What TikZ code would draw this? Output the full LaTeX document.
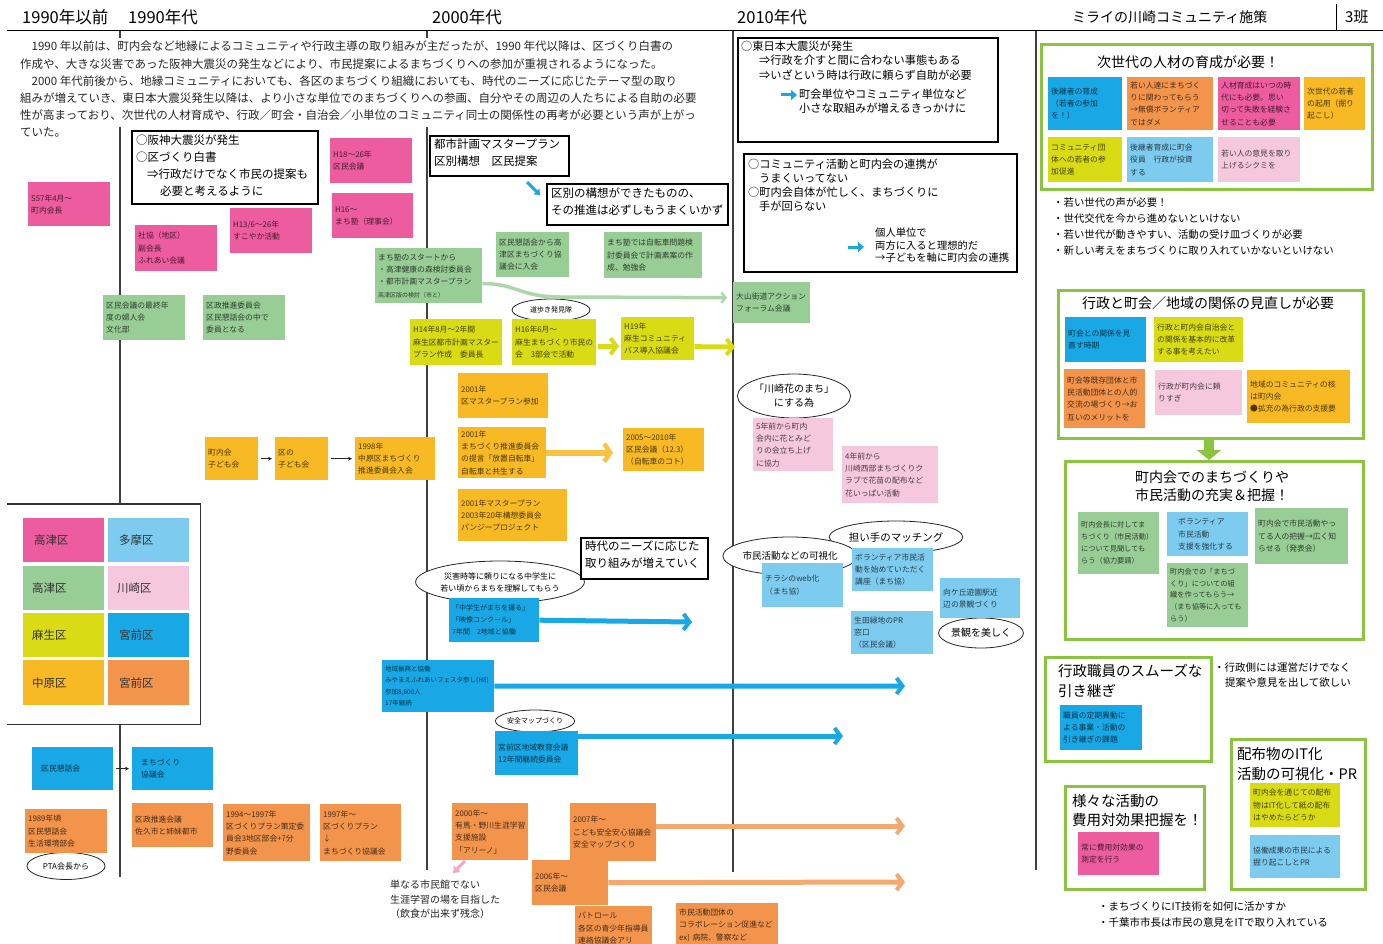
\documentclass[tikz,border=0pt]{standalone}
\usepackage{fontspec}
\setmainfont{Noto Sans CJK JP}
\usetikzlibrary{arrows.meta,shapes.geometric}
\definecolor{cMag}{HTML}{EC5C9E}
\definecolor{cGrn}{HTML}{98CD95}
\definecolor{cYel}{HTML}{D9DB14}
\definecolor{cOY}{HTML}{F7B924}
\definecolor{cBlu}{HTML}{18A8E6}
\definecolor{cLBl}{HTML}{7DCBEF}
\definecolor{cLPk}{HTML}{F6C8DD}
\definecolor{cOrg}{HTML}{F2944C}
\definecolor{cLime}{HTML}{8BC53F}
\newcommand{\fsz}[2]{\fontsize{#1}{#2}\selectfont}
\tikzset{
  stk/.style={anchor=north west, inner xsep=3pt, inner ysep=2pt, align=left, font=\fsz{7.8}{12.3}},
  sz/.code 2 args={\pgfmathsetlengthmacro\mytw{#1-6}\pgfmathsetlengthmacro\mymw{#1}\pgfmathsetlengthmacro\mymh{#2}\edef\mytmp{\noexpand\tikzset{minimum width=\mymw,minimum height=\mymh,text width=\mytw}}\mytmp},
  col/.style={fill=#1, text=#1!30!black},
  cell/.style={font=\fsz{11.5}{14}, text=black!80},
  bxs/.style={draw=black, line width=1.8pt, anchor=north west, inner sep=0pt, fill=white},
  bxt/.style={anchor=north west, align=left, inner sep=0pt, font=\fsz{11.5}{17}},
  lbox/.style={draw=cLime, line width=3pt, fill=white, anchor=north west, inner sep=0pt},
  ell/.style={ellipse, draw=black!85, line width=0.8pt, fill=white, inner sep=0pt, align=center},
  hd/.style={anchor=west, inner sep=0pt, font=\fsz{16.5}{18}},
  ttl/.style={inner sep=0pt, align=center, font=\fsz{14}{18}},
  txt/.style={anchor=north west, inner sep=0pt, align=left, font=\fsz{10.5}{16}},
  tl/.style={line width=1.3pt, black!75},
  barrow/.style={line width=5pt, draw=#1, -{Straight Barb[length=6pt,width=16pt,line width=4pt]}},
  sarr/.style={-{Stealth[length=4pt,width=4pt]}, line width=0.9pt, black!85, shorten <=3pt, shorten >=3pt},
  blarr/.style={line width=3pt, cBlu, -{Triangle[length=6pt,width=10pt]}},
}
\begin{document}
\begin{tikzpicture}[x=1pt,y=-1pt]
\useasboundingbox (0,0) rectangle (1383,944);
\clip (0,0) rectangle (1383,944);
\fill[white] (0,0) rectangle (1383,944);

% ---------- header ----------
\node[hd] (h1) at (22,17) {1990年以前};
\node[hd] (h2) at (128,17) {1990年代};
\node[hd] (h3) at (432,17) {2000年代};
\node[hd] (h4) at (737,17) {2010年代};
\node[hd,font=\fsz{14}{18}] (h5) at (1072,17) {ミライの川崎コミュニティ施策};
\node[hd,font=\fsz{15}{18}] (h6) at (1345,17) {3班};
\draw[line width=1pt] (7,31) -- (1383,31);
\draw[line width=1pt] (1336,4) -- (1336,31);

% ---------- timeline lines ----------
\draw[tl] (120,31) -- (120,38);
\draw[tl] (120,127) -- (120,504);
\draw[tl] (120,724) -- (120,877);
\draw[tl] (427,31) -- (427,38);
\draw[tl] (427,127) -- (427,870);
\draw[tl] (733,31) -- (733,872);
\draw[tl] (1036,31) -- (1036,870);

% ---------- paragraph ----------
\node[anchor=north west, inner sep=0pt, align=left, font=\fsz{11.5}{17.2}, text=black!85] (para) at (20,41) {%
\hspace*{11.5pt}1990 年以前は、町内会など地縁によるコミュニティや行政主導の取り組みが主だったが、1990 年代以降は、区づくり白書の\\
作成や、大きな災害であった阪神大震災の発生などにより、市民提案によるまちづくりへの参加が重視されるようになった。\\
\hspace*{11.5pt}2000 年代前後から、地縁コミュニティにおいても、各区のまちづくり組織においても、時代のニーズに応じたテーマ型の取り\\
組みが増えていき、東日本大震災発生以降は、より小さな単位でのまちづくりへの参画、自分やその周辺の人たちによる自助の必要\\
性が高まっており、次世代の人材育成や、行政／町会・自治会／小単位のコミュニティ同士の関係性の再考が必要という声が上がっ\\
ていた。};

% ---------- ellipses ----------
\node[ell,minimum width=78,minimum height=22,font=\fsz{7}{9}] (e1) at (551,310) {道歩き発見隊};
\node[ell,minimum width=90,minimum height=44,font=\fsz{10}{14}] (e2) at (794,396) {「川崎花のまち」\\にする為};
\node[ell,minimum width=118,minimum height=32,font=\fsz{10.5}{13}] (e4) at (896,537) {担い手のマッチング};
\node[ell,minimum width=117,minimum height=38,font=\fsz{9.5}{12}] (e3) at (790,556) {市民活動などの可視化};
\node[ell,minimum width=78,minimum height=30,font=\fsz{10}{12}] (e5) at (981,633) {景観を美しく};
\node[ell,minimum width=142,minimum height=42,font=\fsz{8}{12}] (e6) at (500,582) {災害時等に頼りになる中学生に\\若い頃からまちを理解してもらう};
\node[ell,minimum width=72,minimum height=22,font=\fsz{7}{9}] (e7) at (535,721) {安全マップづくり};
\node[ell,minimum width=78,minimum height=27,font=\fsz{8}{10}] (e8) at (66,866) {PTA会長から};

% ---------- pink ----------
\node[stk,sz={82}{44},col=cMag] (p1) at (28,182) {S57年4月～\\町内会長};
\node[stk,sz={82}{46},col=cMag] (p2) at (135,225) {社協（地区）\\副会長\\ふれあい会議};
\node[stk,sz={82}{45},col=cMag] (p3) at (230,208) {H13/6～26年\\すこやか活動};
\node[stk,sz={82}{45},col=cMag] (p4) at (330,138) {H18～26年\\区民会議};
\node[stk,sz={81}{45},col=cMag] (p5) at (332,193) {H16～\\まち塾（理事会）};

% ---------- green ----------
\node[stk,sz={82}{45},col=cGrn] (g1) at (103,295) {区民会議の最終年\\度の婦人会\\文化部};
\node[stk,sz={82}{45},col=cGrn] (g2) at (203,295) {区政推進委員会\\区民懇話会の中で\\委員となる};
\node[stk,sz={107}{55},col=cGrn] (g3) at (375,248) {まち塾のスタートから\\・高津健康の森検討委員会\\・都市計画マスタープラン\\{\fsz{6}{9}高津区版の検討（市と）}};
\node[stk,sz={73}{45},col=cGrn] (g4) at (496,232) {区民懇話会から高\\津区まちづくり協\\議会に入会};
\node[stk,sz={98}{46},col=cGrn] (g5) at (604,232) {まち塾では自転車問題検\\討委員会で計画素案の作\\成、勉強会};
\node[stk,sz={77}{41},col=cGrn] (g6) at (733,282) {大山街道アクション\\フォーラム会議};

% ---------- yellow ----------
\node[stk,sz={92}{46},col=cYel] (y1) at (410,319) {H14年8月～2年間\\麻生区都市計画マスター\\プラン作成　委員長};
\node[stk,sz={84}{46},col=cYel] (y2) at (512,319) {H16年6月～\\麻生まちづくり市民の\\会　3部会で活動};
\node[stk,sz={73}{43},col=cYel] (y3) at (621,317) {H19年\\麻生コミュニティ\\バス導入協議会};

% ---------- orange-yellow ----------
\node[stk,sz={90}{45},col=cOY] (o1) at (458,373) {2001年\\区マスタープラン参加};
\node[stk,sz={88}{51},col=cOY] (o2) at (458,427) {2001年\\まちづくり推進委員会\\の提言「放置自転車」\\自転車と共生する};
\node[stk,sz={81}{43},col=cOY] (o3) at (623,428) {2005～2010年\\区民会議（12.3）\\（自転車のコト）};
\node[stk,sz={109}{52},col=cOY] (o4) at (458,489) {2001年マスタープラン\\2003年20年構想委員会\\パンジープロジェクト};
\node[stk,sz={53}{43},col=cOY] (o5) at (205,437) {町内会\\子ども会};
\node[stk,sz={53}{43},col=cOY] (o6) at (275,437) {区の\\子ども会};
\node[stk,sz={80}{43},col=cOY] (o7) at (355,437) {1998年\\中原区まちづくり\\推進委員会入会};

% ---------- light pink ----------
\node[stk,sz={80}{53},col=cLPk] (lp1) at (753,418) {5年前から町内\\会内に花とみど\\りの会立ち上げ\\に協力};
\node[stk,sz={96}{57},col=cLPk] (lp2) at (842,446) {4年前から\\川崎西部まちづくりク\\ラブで花苗の配布など\\花いっぱい活動};

% ---------- light blue ----------
\node[stk,sz={81}{44},col=cLBl] (lb1) at (762,563) {チラシのweb化\\（まち協）};
\node[stk,sz={81}{43},col=cLBl] (lb2) at (852,548) {ボランティア市民活\\動を始めていただく\\講座（まち協）};
\node[stk,sz={80}{40},col=cLBl] (lb3) at (940,578) {向ケ丘遊園駅近\\辺の景観づくり};
\node[stk,sz={82}{43},col=cLBl] (lb4) at (851,611) {生田緑地のPR\\窓口\\（区民会議）};

% ---------- blue ----------
\node[stk,sz={90}{44},col=cBlu,font=\fsz{7}{12}] (bl1) at (449,598) {「中学生がまちを撮る」\\「映像コンクール」\\7年間　2地域と協働};
\node[stk,sz={112}{52},col=cBlu,font=\fsz{6.5}{11.5}] (bl2) at (382,660) {地域振興と協働\\みやまえふれあいフェスタ参し(H8)\\参加8,600人\\17年継続};
\node[stk,sz={83}{44},col=cBlu] (bl3) at (495,731) {宮前区地域教育会議\\12年間継続委員会};
\node[stk,sz={81}{43},col=cBlu] (bl4) at (32,747) {\hspace*{6pt}区民懇話会};
\node[stk,sz={81}{43},col=cBlu] (bl5) at (132,747) {\hspace*{6pt}まちづくり\\\hspace*{6pt}協議会};

% ---------- orange ----------
\node[stk,sz={82}{44},col=cOrg] (or1) at (25,809) {1989年頃\\区民懇話会\\生活環境部会};
\node[stk,sz={81}{44},col=cOrg] (or2) at (132,803) {区政推進会議\\佐久市と姉妹都市};
\node[stk,sz={87}{57},col=cOrg] (or3) at (223,804) {1994～1997年\\区づくりプラン策定委\\員会3地区部会+7分\\野委員会};
\node[stk,sz={81}{57},col=cOrg] (or4) at (320,804) {1997年～\\区づくりプラン\\↓\\まちづくり協議会};
\node[stk,sz={76}{57},col=cOrg] (or5) at (452,803) {2000年～\\有馬・野川生涯学習\\支援施設\\「アリーノ」};
\node[stk,sz={86}{58},col=cOrg] (or6) at (570,803) {2007年～\\こども安全安心協議会\\安全マップづくり};
\node[stk,sz={76}{45},col=cOrg] (or7) at (532,860) {2006年～\\区民会議};
\node[stk,sz={77}{44},col=cOrg] (or8) at (575,906) {パトロール\\各区の青少年指導員\\連絡協議会アリ};
\node[stk,sz={102}{44},col=cOrg] (or9) at (676,903) {市民活動団体の\\コラボレーション促進など\\ex) 病院、警察など};

% ---------- districts ----------
\node[anchor=north west, inner sep=0pt, minimum width=193, minimum height=220, fill=white] (dbox) at (7,504) {};
\draw[line width=1.3pt, black!80] (dbox.north west) -- (dbox.north east) -- (dbox.south east) -- (dbox.south west);
\node[stk,sz={81}{44},col=cMag,cell] (d1) at (23,518) {\hspace*{8pt}高津区};
\node[stk,sz={81}{44},col=cLBl,cell] (d2) at (108,518) {\hspace*{8pt}多摩区};
\node[stk,sz={81}{44},col=cGrn,cell] (d3) at (23,566) {\hspace*{6pt}高津区};
\node[stk,sz={81}{44},col=cLPk,cell] (d4) at (108,566) {\hspace*{6pt}川崎区};
\node[stk,sz={81}{44},col=cYel,cell] (d5) at (23,613) {\hspace*{6pt}麻生区};
\node[stk,sz={81}{44},col=cBlu,cell] (d6) at (108,613) {\hspace*{8pt}宮前区};
\node[stk,sz={81}{45},col=cOY,cell] (d7) at (23,660) {\hspace*{6pt}中原区};
\node[stk,sz={81}{45},col=cOrg,cell] (d8) at (108,660) {\hspace*{8pt}宮前区};

% ---------- black boxes ----------
\node[bxs,sz={186}{73}] (b1) at (131,130) {};
\node[bxt] (b1t) at (136,135) {○阪神大震災が発生\\○区づくり白書\\\hspace*{11pt}⇒行政だけでなく市民の提案も\\\hspace*{24pt}必要と考えるように};
\node[bxs,sz={139}{40}] (b2) at (429,135) {};
\node[bxt] (b2t) at (434,139) {都市計画マスタープラン\\区別構想　区民提案};
\node[bxs,sz={181}{41}] (b3) at (546,183) {};
\node[bxt] (b3t) at (551,188) {区別の構想ができたものの、\\その推進は必ずしもうまくいかず};
\node[bxs,sz={260}{104}] (b4) at (737,37) {};
\node[bxt,font=\fsz{11.2}{14.3}] (b4t) at (741,41) {○東日本大震災が発生\\\hspace*{18pt}⇒行政を介すと間に合わない事態もある\\\hspace*{18pt}⇒いざという時は行政に頼らず自助が必要\\[5pt]\hspace*{58pt}町会単位やコミュニティ単位など\\\hspace*{58pt}小さな取組みが増えるきっかけに};
\node[bxs,sz={273}{118}] (b5) at (743,153) {};
\node[bxt,font=\fsz{11.2}{13.8}] (b5t) at (748,159) {○コミュニティ活動と町内会の連携が\\\hspace*{11pt}うまくいってない\\○町内会自体が忙しく、まちづくりに\\\hspace*{11pt}手が回らない};
\node[bxt,font=\fsz{10.3}{12.5}] (b5s) at (875,228) {個人単位で\\両方に入ると理想的だ\\→子どもを軸に町内会の連携};
\node[bxs,sz={127}{41}] (b6) at (580,537) {};
\node[bxt] (b6t) at (585,541) {時代のニーズに応じた\\取り組みが増えていく};

% ---------- right section ----------
\node[lbox,sz={331}{145}] (r1) at (1040,43) {};
\node[ttl] (r1t) at (1188,62) {次世代の人材の育成が必要！};
\node[stk,sz={74}{53},col=cBlu] (r1a) at (1048,77) {後継者の育成\\（若者の参加\\を！）};
\node[stk,sz={86}{53},col=cOrg] (r1b) at (1127,77) {若い人達にまちづく\\りに関わってもらう\\→無償ボランティア\\ではダメ};
\node[stk,sz={82}{53},col=cMag] (r1c) at (1218,77) {人材育成はいつの時\\代にも必要。思い\\切って失敗を経験さ\\せることも必要};
\node[stk,sz={61}{53},col=cOY] (r1d) at (1304,77) {次世代の若者\\の起用（掘り\\起こし）};
\node[stk,sz={74}{45},col=cYel] (r1e) at (1048,137) {コミュニティ団\\体への若者の参\\加促進};
\node[stk,sz={86}{45},col=cLBl] (r1f) at (1127,137) {後継者育成に町会\\役員　行政が投資\\する};
\node[stk,sz={82}{45},col=cLPk] (r1g) at (1218,137) {若い人の意見を取り\\上げるシクミを};
\node[txt,font=\fsz{10.4}{16}] (rb1) at (1053,198) {・若い世代の声が必要！\\・世代交代を今から進めないといけない\\・若い世代が動きやすい、活動の受け皿づくりが必要\\・新しい考えをまちづくりに取り入れていかないといけない};

\node[lbox,sz={305}{148}] (r2) at (1057,289) {};
\node[ttl] (r2t) at (1208,303) {行政と町会／地域の関係の見直しが必要};
\node[stk,sz={81}{45},col=cBlu] (r2a) at (1065,317) {町会との関係を見\\直す時期};
\node[stk,sz={89}{45},col=cYel] (r2b) at (1154,317) {行政と町内会自治会と\\の関係を基本的に改革\\する事を考えたい};
\node[stk,sz={81}{59},col=cOrg] (r2c) at (1064,369) {町会等既存団体と市\\民活動団体との人的\\交流の場づくり→お\\互いのメリットを};
\node[stk,sz={87}{45},col=cLPk] (r2d) at (1155,370) {行政が町内会に頼\\りすぎ};
\node[stk,sz={103}{53},col=cOY] (r2e) at (1247,370) {地域のコミュニティの核\\は町内会\\●拡充の為行政の支援要};

\node[lbox,sz={298}{178}] (r3) at (1064,460) {};
\draw[line width=10pt, cLime, -{Triangle[length=10pt,width=24pt]}] ([xshift=-2pt]r2.south) -- ([xshift=-2pt]r2.south |- r3.north);
\node[ttl] (r3t) at (1212,486) {町内会でのまちづくりや\\市民活動の充実＆把握！};
\node[stk,sz={81}{62},col=cGrn,font=\fsz{7.2}{12}] (r3a) at (1078,512) {町内会長に対してま\\ちづくり（市民活動）\\について見聞しても\\らう（協力要請）};
\node[stk,sz={81}{44},col=cLBl] (r3b) at (1167,512) {\hspace*{8pt}ボランティア\\\hspace*{8pt}市民活動\\\hspace*{8pt}支援を強化する};
\node[stk,sz={93}{56},col=cGrn] (r3c) at (1255,508) {町内会で市民活動やっ\\てる人の把握→広く知\\らせる（発表会）};
\node[stk,sz={81}{64},col=cGrn,font=\fsz{7.2}{11.8}] (r3d) at (1167,563) {町内会での「まちづ\\くり」についての組\\織を作ってもらう→\\（まち協等に入っても\\らう）};

\node[lbox,sz={166}{104}] (r4) at (1044,656) {};
\node[txt,font=\fsz{14.5}{19.5}] (r4t) at (1058,664) {行政職員のスムーズな\\引き継ぎ};
\node[stk,sz={82}{45},col=cBlu] (r4a) at (1060,705) {職員の定期異動に\\よる事業・活動の\\引き継ぎの課題};
\node[txt,font=\fsz{10.5}{15.5}] (rt4) at (1214,662) {・行政側には運営だけでなく\\\hspace*{11pt}提案や意見を出して欲しい};

\node[lbox,sz={134}{150}] (r5) at (1230,738) {};
\node[txt,font=\fsz{14.5}{20}] (r5t) at (1237,747) {配布物のIT化\\活動の可視化・PR};
\node[stk,sz={90}{44},col=cYel] (r5a) at (1250,783) {町内会を通じての配布\\物はIT化して紙の配布\\はやめたらどうか};
\node[stk,sz={90}{43},col=cLBl] (r5b) at (1250,835) {協働成果の市民による\\掘り起こしとPR};

\node[lbox,sz={139}{103}] (r6) at (1064,785) {};
\node[txt,font=\fsz{14.5}{19}] (r6t) at (1072,794) {様々な活動の\\費用対効果把握を！};
\node[stk,sz={81}{43},col=cMag] (r6a) at (1078,832) {常に費用対効果の\\測定を行う};

\node[txt,font=\fsz{10.5}{16}] (rb2) at (1098,901) {・まちづくりにIT技術を如何に活かすか\\・千葉市市長は市民の意見をITで取り入れている};

% ---------- free text ----------
\node[txt,font=\fsz{10}{14.5},text=black!85] (t1) at (390,880) {単なる市民館でない\\生涯学習の場を目指した\\（飲食が出来ず残念）};

% ---------- arrows ----------
\coordinate (da1) at (527,182); \coordinate (da2) at (540,195);
\draw[line width=3pt, cBlu, -{Triangle[length=5pt,width=8pt]}] (da1) -- (da2);
\coordinate (ba4s) at (781,95); \coordinate (ba4e) at (797,95);
\draw[blarr] (ba4s) -- (ba4e);
\coordinate (ba5s) at (848,247); \coordinate (ba5e) at (864,247);
\draw[blarr] (ba5s) -- (ba5e);

\draw[line width=3.5pt, cGrn!80, -{Straight Barb[length=4pt,width=10pt,line width=2.5pt]}, shorten >=6pt]
  ([yshift=-8pt]g3.east) .. controls (515,283) and (520,297) .. (560,297) -- ([yshift=5pt]g6.west);

\draw[barrow=cYel, shorten <=2pt, shorten >=2pt] ([yshift=-4pt]y2.east) -- ([yshift=-4pt]y2.east -| y3.west);
\coordinate (y3e) at (735,347);
\draw[barrow=cYel] ([yshift=-8pt]y3.east) -- (y3e);
\draw[line width=6pt, draw=cOY!85, -{Straight Barb[length=6pt,width=18pt,line width=4.5pt]}, shorten >=10pt] (o2.east) -- (o2.east -| o3.west);

\draw[sarr] (o5) -- (o6);
\draw[sarr] (o6) -- (o7);
\draw[sarr] (bl4) -- (bl5);

\coordinate (bl1e) at (692,622);
\draw[barrow=cBlu] (bl1.east) -- (bl1e);
\coordinate (bl2e) at (905,686);
\draw[barrow=cBlu] (bl2.east) -- (bl2e);
\coordinate (bl3e) at (843,736);
\draw[barrow=cBlu] ([yshift=-5pt]bl3.north east) -- (bl3e);
\coordinate (or6e) at (905,826);
\draw[barrow=cOrg!80] ([yshift=-23pt]or6.north east) -- (or6e);
\coordinate (or7e) at (905,882);
\draw[barrow=cOrg!80] (or7.east) -- (or7e);

\coordinate (pa1) at (465,861); \coordinate (pa2) at (453,873);
\draw[line width=3pt, cMag!55, -{Triangle[length=6pt,width=9pt]}] (pa1) -- (pa2);
\end{tikzpicture}
\end{document}
